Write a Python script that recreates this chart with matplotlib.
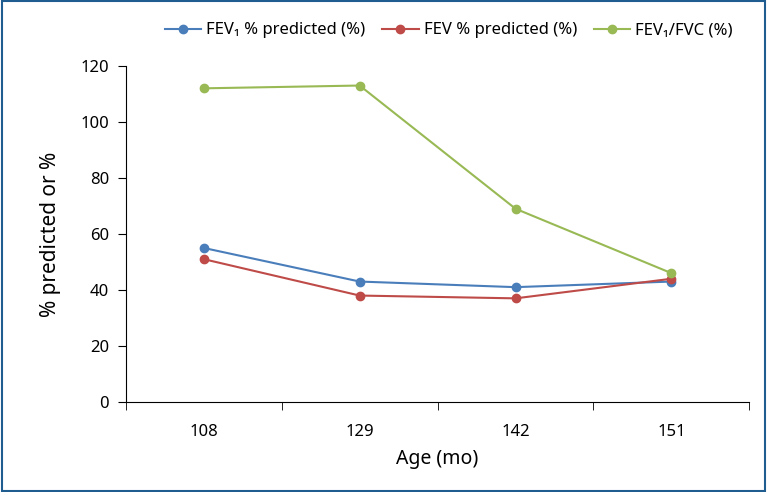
import matplotlib.pyplot as plt
from matplotlib.patches import Rectangle

ages = ['108', '129', '142', '151']
fev1_pred = [55, 43, 41, 43]
fev_pred = [51, 38, 37, 44]
fev1_fvc = [112, 113, 69, 46]

labels = ['FEV\u2081 % predicted (%)', 'FEV % predicted (%)', 'FEV\u2081/FVC (%)']
colors = ['#4a7ebb', '#be4b48', '#98b954']

plt.rcParams['font.family'] = ['Noto Sans', 'DejaVu Sans']

fig = plt.figure(figsize=(7.67, 4.92), dpi=100)
ax = fig.add_axes([0.164, 0.183, 0.813, 0.683])

x = range(len(ages))
for vals, lab, col in zip([fev1_pred, fev_pred, fev1_fvc], labels, colors):
    ax.plot(x, vals, color=col, marker='o', markersize=6, linewidth=1.5, label=lab)

ax.set_xlim(-0.5, len(ages) - 0.5)
ax.set_ylim(0, 120)
ax.set_yticks(range(0, 121, 20))
ax.set_xticks(x)
ax.set_xticklabels(ages)
ax.set_xticks([i - 0.5 for i in range(len(ages) + 1)], minor=True)
ax.tick_params(axis='x', which='major', length=0, pad=16, labelsize=12)
ax.tick_params(axis='x', which='minor', length=6, direction='out')
ax.tick_params(axis='y', length=6, direction='out', labelsize=12, pad=6)

for s in ['top', 'right']:
    ax.spines[s].set_visible(False)

ax.set_xlabel('Age (mo)', fontsize=14, labelpad=6)
ax.set_ylabel('% predicted or %', fontsize=15, labelpad=14)

fig.legend(loc='upper right', bbox_to_anchor=(0.975, 0.985), ncol=3, frameon=False,
           fontsize=12, handlelength=2.2, columnspacing=1.0, handletextpad=0.3)

fig.patches.append(Rectangle((0.002, 0.002), 0.996, 0.996, transform=fig.transFigure,
                             fill=False, edgecolor='#1f5c8f', linewidth=1.5))

fig.savefig('out.png', dpi=100)
